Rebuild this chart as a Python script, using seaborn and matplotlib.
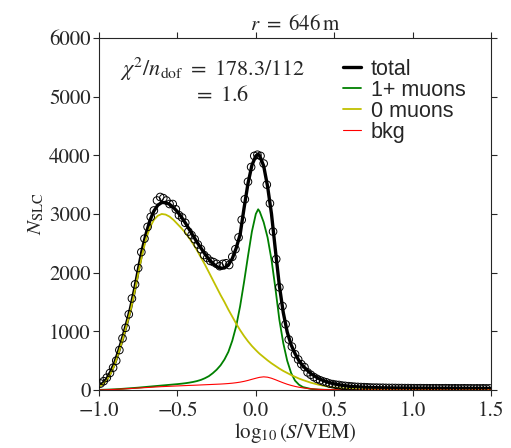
import numpy as np
import matplotlib
matplotlib.use("Agg")
import matplotlib.pyplot as plt
import seaborn as sns

# histogram of SLC signals (bin width 0.02 in log10(S/VEM))
counts = [110, 150, 210, 290, 380, 500, 680, 880, 1060, 1290,
          1560, 1800, 2080, 2350, 2580, 2780, 2950, 3060, 3230, 3290,
          3270, 3230, 3170, 3170, 3080, 2980, 2940, 2850, 2700, 2640,
          2570, 2480, 2400, 2300, 2250, 2200, 2180, 2150, 2110, 2150,
          2160, 2130, 2270, 2400, 2600, 2900, 3250, 3550, 3800, 3990,
          4010, 3990, 3860, 3500, 3180, 2700, 2230, 1750, 1430, 1120,
          860, 740, 610, 520, 440, 390, 300, 260, 220, 190,
          165, 145, 130, 110, 100, 90, 85, 75, 70, 65,
          60, 55, 52, 50, 48, 45, 42, 40, 40, 38,
          38, 36, 35, 35, 34, 33, 33, 32, 32,
          31, 31, 30, 31, 30, 30, 29, 30, 30, 29,
          29, 30, 29, 28, 29, 28, 28, 29, 28, 28,
          27, 28, 27, 28, 27, 27]
bin_first = -0.99
bin_width = 0.02
bin_x = bin_first + bin_width * np.arange(len(counts))

# fit curves
fit_x = [-1.0, -0.975, -0.95, -0.925, -0.9, -0.875, -0.85, -0.825, -0.8, -0.775,
         -0.75, -0.725, -0.7, -0.675, -0.65, -0.625, -0.6, -0.575, -0.55, -0.525,
         -0.5, -0.475, -0.45, -0.425, -0.4, -0.375, -0.35, -0.325, -0.3, -0.275,
         -0.25, -0.225, -0.2, -0.175, -0.15, -0.125, -0.1, -0.075, -0.05, -0.025,
         0.0, 0.015, 0.025, 0.05, 0.075, 0.1, 0.125, 0.15, 0.175, 0.2,
         0.225, 0.25, 0.275, 0.3, 0.35, 0.4, 0.45, 0.5, 0.55, 0.6,
         0.7, 0.8, 0.9, 1.0, 1.2, 1.5]
total = [70, 115, 190, 310, 460, 660, 880, 1120, 1380, 1690,
         2040, 2380, 2660, 2890, 3050, 3150, 3195, 3195, 3165, 3110,
         3040, 2950, 2850, 2740, 2630, 2520, 2420, 2320, 2230, 2160,
         2105, 2075, 2080, 2130, 2240, 2420, 2650, 3100, 3520, 3830,
         3990, 4020, 3990, 3820, 3470, 3000, 2380, 1780, 1320, 990,
         770, 620, 500, 410, 280, 195, 140, 105, 80, 62,
         45, 37, 33, 31, 29, 27]
muons = [2, 4, 6, 9, 12, 16, 20, 25, 30, 35,
         40, 46, 52, 58, 64, 70, 76, 82, 88, 94,
         100, 107, 115, 125, 137, 152, 172, 200, 235, 285,
         345, 420, 520, 650, 840, 1090, 1430, 1840, 2280, 2700,
         3000, 3080, 3040, 2860, 2600, 2220, 1730, 1200, 800, 500,
         290, 160, 90, 50, 18, 7, 3, 1, 0, 0,
         0, 0, 0, 0, 0, 0]
no_muons = [50, 95, 165, 280, 430, 630, 850, 1090, 1340, 1640,
            1980, 2300, 2570, 2770, 2900, 2970, 3000, 2990, 2955, 2900,
            2830, 2760, 2680, 2590, 2490, 2380, 2260, 2140, 2010, 1880,
            1750, 1620, 1500, 1370, 1250, 1130, 1020, 920, 830, 750,
            680, 640, 615, 560, 505, 455, 410, 365, 325, 290,
            255, 225, 195, 170, 125, 90, 62, 42, 28, 18,
            7, 3, 1, 0, 0, 0]
bkg = [0, 2, 4, 7, 10, 13, 17, 21, 25, 29,
       33, 37, 41, 45, 49, 53, 57, 60, 63, 66,
       69, 72, 75, 78, 80, 83, 86, 89, 92, 95,
       98, 101, 105, 110, 116, 124, 134, 147, 163, 182,
       200, 210, 216, 224, 218, 200, 175, 148, 122, 98,
       78, 61, 47, 36, 20, 11, 6, 4, 3, 2,
       1, 0, 0, 0, 0, 0]

x_ticks = [-1.0, -0.5, 0.0, 0.5, 1.0, 1.5]
y_ticks = [0, 1000, 2000, 3000, 4000, 5000, 6000]

sns.set_style("ticks")
plt.rcParams["font.family"] = ["STIXGeneral", "DejaVu Serif"]
plt.rcParams["mathtext.fontset"] = "stix"
plt.rcParams["axes.unicode_minus"] = True

fig = plt.figure(figsize=(5.11, 4.48), dpi=100)
ax = fig.add_axes([0.1937, 0.1295, 0.7673, 0.7857])

sns.lineplot(x=fit_x, y=total, color="black", lw=2.4, label="total", ax=ax)
sns.lineplot(x=fit_x, y=muons, color="green", lw=1.3, label="1+ muons", ax=ax)
sns.lineplot(x=fit_x, y=no_muons, color="#c0c000", lw=1.3, label="0 muons", ax=ax)
sns.lineplot(x=fit_x, y=bkg, color="red", lw=0.8, label="bkg", ax=ax)
sns.scatterplot(x=bin_x, y=counts, marker="o", s=30, facecolor="none",
                edgecolor="black", linewidth=0.7, ax=ax, zorder=5)

ax.set_xlim(-1.0, 1.5)
ax.set_ylim(0, 6000)
ax.set_xticks(x_ticks)
ax.set_yticks(y_ticks)
ax.tick_params(direction="out", top=True, right=True, length=4, width=0.8,
               labelsize=15, pad=2)
ax.tick_params(axis="x", pad=4)
for s in ax.spines.values():
    s.set_linewidth(0.8)

ax.set_xlabel(r"$\log_{10}(S/\mathrm{VEM})$", fontsize=15, labelpad=0)
ax.set_ylabel(r"$N_\mathrm{SLC}$", fontsize=15, labelpad=2)
ax.set_title(r"$r\ =\ 646\,\mathrm{m}$", fontsize=15, pad=6)

ax.text(0.29, 0.91, r"$\chi^2/n_\mathrm{dof}\ =\ 178.3/112$", transform=ax.transAxes,
        ha="center", va="center", fontsize=16)
ax.text(0.312, 0.835, r"$=\ 1.6$", transform=ax.transAxes,
        ha="center", va="center", fontsize=16)

leg = ax.legend(loc="upper left", bbox_to_anchor=(0.6, 0.965), frameon=False,
                handlelength=0.85, handletextpad=0.45, labelspacing=0.0,
                borderaxespad=0, prop={"family": "Liberation Sans", "size": 15.5})

fig.savefig("out.png", dpi=100)
